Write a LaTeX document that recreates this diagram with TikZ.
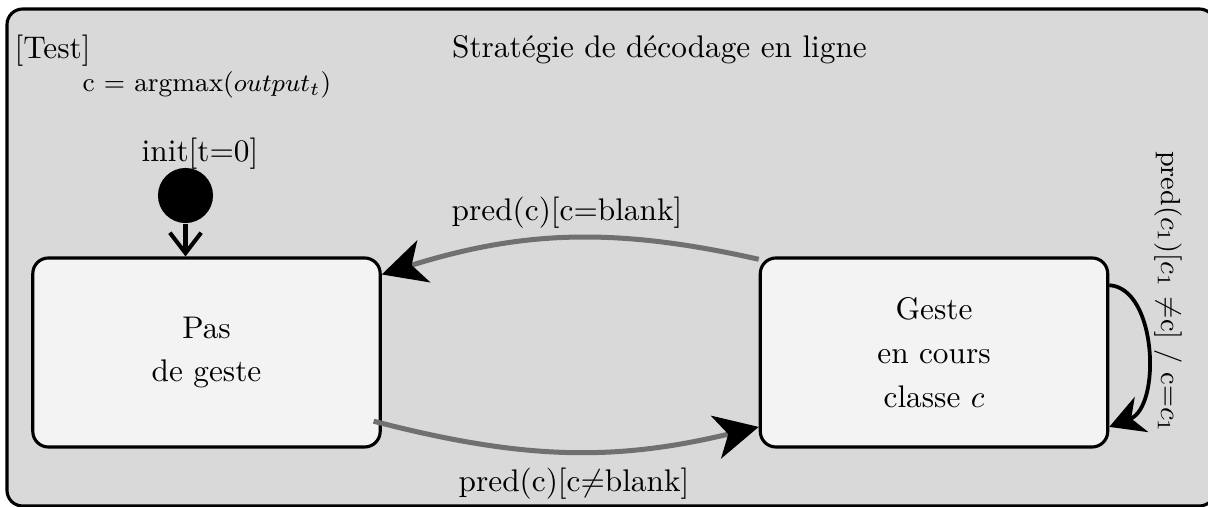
\documentclass[tikz,border=0pt]{standalone}
\usetikzlibrary{arrows.meta,positioning}
\definecolor{framefill}{HTML}{D9D9D9}
\definecolor{boxfill}{HTML}{F3F3F3}
\definecolor{linegray}{HTML}{707070}
\begin{document}
\begin{tikzpicture}[x=0.3195pt,y=-0.3195pt,
  frame/.style={draw=black,line width=1pt,fill=framefill,rounded corners=5pt},
  statebox/.style={draw=black,line width=1pt,fill=boxfill,rounded corners=5pt,
    minimum width=111pt,minimum height=60.4pt,align=center,inner sep=0pt},
  initdot/.style={circle,fill=black,minimum size=17.6pt,inner sep=0pt},
  trans/.style={draw=linegray,line width=1.6pt,
    -{Stealth[black,length=14pt,width=14pt,inset=4pt]}},
  selfloop/.style={draw=black,line width=1.2pt,
    -{Stealth[black,length=11pt,width=12pt,inset=3.5pt]}},
  initarrow/.style={draw=black,line width=1.3pt,-{Straight Barb[length=6.5pt,width=10pt]}},
  lbl/.style={inner sep=0pt}]
\useasboundingbox (0,0) rectangle (1208,507);
\draw[frame] (7,9) rectangle (1215,506);
\node[lbl,anchor=base] (title) at (659.5,58) {Strat\'egie de d\'ecodage en ligne};
\node[lbl,anchor=base west] (test) at (14,59) {[Test]};
\node[lbl,anchor=base west,font=\fontsize{8.5}{10}\selectfont] (argmax) at (82,92) {c = argmax($output_t$)};
\node[lbl,anchor=base] (initlbl) at (200,162) {init[t=0]};
\node[initdot] (C) at (185.5,195.5) {};
\node[statebox] (L) at (206.5,352.5) {Pas\\[2pt]de geste};
\node[statebox] (R) at (934,352.5) {Geste\\[2pt]en cours\\[2pt]classe $c$};
\draw[initarrow] (C.south) -- (C |- L.north);
\draw[trans] (R.152.5) to[bend right=15] (L.24);
\draw[trans,shorten <=-2.7pt] (L.-22.4) to[bend right=14] (R.203);
\draw[selfloop] (R.21) .. controls +(48,3) and +(52,-20) .. (R.-23.5);
\node[lbl,anchor=base] (toplbl) at (567,220.7) {pred(c)[c=blank]};
\node[lbl,anchor=base] (botlbl) at (574,491.7) {pred(c)[c$\neq$blank]};
\node[lbl,rotate=-90,font=\fontsize{8.8}{11}\selectfont] (looplbl) at (1168,292) {pred($c_1$)[$c_1$ $\neq$c] / c=$c_1$};
\end{tikzpicture}
\end{document}
